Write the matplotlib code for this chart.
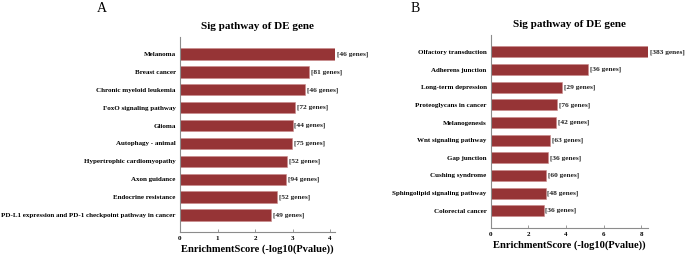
import matplotlib
matplotlib.use("Agg")
import matplotlib.pyplot as plt

plt.rcParams['font.family'] = ['Liberation Serif', 'DejaVu Serif']

a_terms = ["Melanoma", "Breast cancer", "Chronic myeloid leukemia", "FoxO signaling pathway",
           "Glioma", "Autophagy - animal", "Hypertrophic cardiomyopathy", "Axon guidance",
           "Endocrine resistance", "PD-L1 expression and PD-1 checkpoint pathway in cancer"]
a_scores = [4.13, 3.44, 3.34, 3.07, 3.00, 2.99, 2.86, 2.83, 2.59, 2.42]
a_genes = [46, 81, 46, 72, 44, 75, 52, 94, 52, 49]
a_ticks = [0, 1, 2, 3, 4]

b_terms = ["Olfactory transduction", "Adherens junction", "Long-term depression",
           "Proteoglycans in cancer", "Melanogenesis", "Wnt signaling pathway", "Gap junction",
           "Cushing syndrome", "Sphingolipid signaling pathway", "Colorectal cancer"]
b_scores = [8.35, 5.17, 3.78, 3.55, 3.46, 3.16, 3.04, 2.93, 2.92, 2.81]
b_genes = [383, 36, 29, 76, 42, 63, 36, 60, 48, 36]
b_ticks = [0, 2, 4, 6, 8]

W, H = 685, 257
fig = plt.figure(figsize=(W / 100, H / 100), dpi=100)

bar_color = "#963436"
spine_color = "#8c8c8c"


def panel(rect, terms, scores, genes, ticks, xmax, ylim, letter, letter_xy):
    ax = fig.add_axes(rect)
    y = list(range(len(terms)))
    ax.barh(y, scores, height=0.63, color=bar_color, edgecolor="#c98a8a", linewidth=0.4)
    for yi, s, g in zip(y, scores, genes):
        ax.text(s + xmax * 0.012, yi, f"[{g} genes]", va="center", ha="left",
                fontsize=5.3, fontweight="bold", color="#222222")
    ax.set_yticks(y)
    ax.set_yticklabels(terms, fontsize=5, fontweight="bold")
    ax.set_ylim(*ylim)
    ax.set_xlim(0, xmax)
    ax.set_xticks(ticks)
    ax.set_xticklabels([str(t) for t in ticks], fontsize=5, fontweight="bold")
    ax.tick_params(axis="y", length=0, pad=3)
    ax.tick_params(axis="x", direction="in", length=2, width=0.6, color=spine_color, pad=3)
    for side in ("top", "right"):
        ax.spines[side].set_visible(False)
    for side in ("left", "bottom"):
        ax.spines[side].set_color(spine_color)
        ax.spines[side].set_linewidth(0.8)
    ax.set_xlabel("EnrichmentScore (-log10(Pvalue))", fontsize=7.6, fontweight="bold", labelpad=2)
    ax.set_title("Sig pathway of DE gene", fontsize=8, fontweight="bold", pad=6)
    fig.text(letter_xy[0] / W, 1 - letter_xy[1] / H, letter, fontsize=10,
             ha="center", va="center")
    return ax


panel([180 / W, 1 - 232 / H, 155 / W, 195 / H], a_terms, a_scores, a_genes, a_ticks,
      4.13, (9.95, -0.95), "A", (102, 8))
panel([490.7 / W, 1 - 228 / H, 157 / W, 193 / H], b_terms, b_scores, b_genes, b_ticks,
      8.35, (9.98, -0.96), "B", (415, 8))

fig.savefig("out.png", dpi=100, facecolor="white")
